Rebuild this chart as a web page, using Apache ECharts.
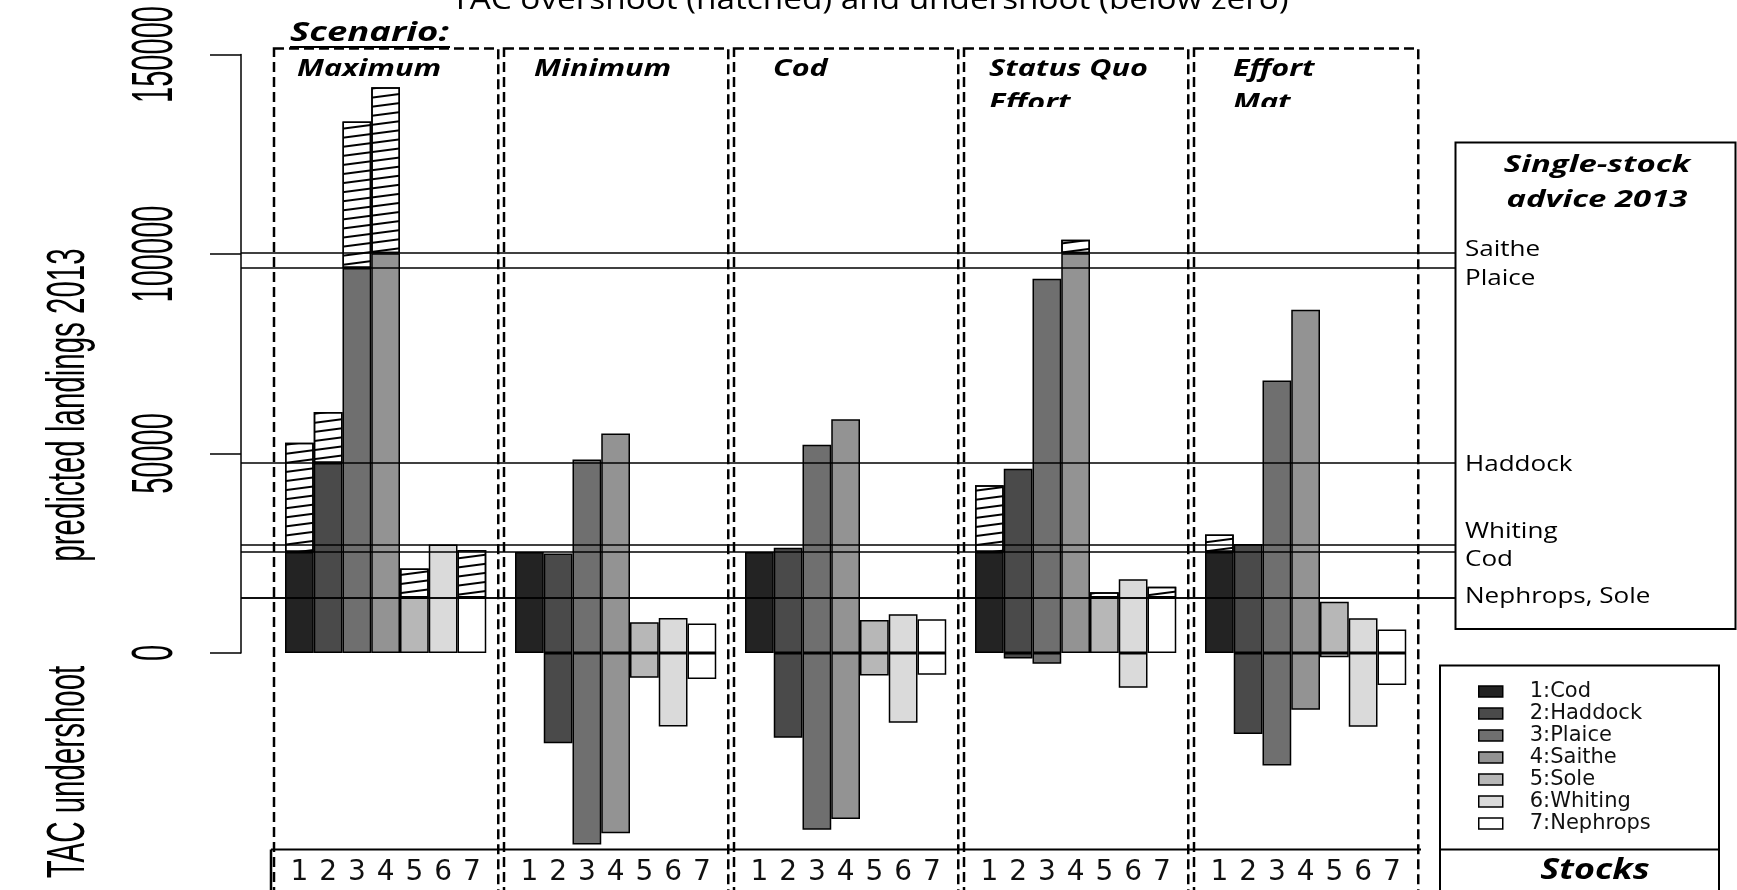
<!DOCTYPE html>
<html>
<head>
<meta charset="utf-8">
<title>TAC overshoot and undershoot</title>
<script src="https://cdn.jsdelivr.net/npm/echarts@6/dist/echarts.min.js"></script>
<style>
  html, body { margin: 0; padding: 0; background: #fff; }
  #chart { width: 1737px; height: 890px; }
</style>
</head>
<body>
<div id="chart"></div>
<script>
// stocks, in bar order inside every scenario panel
var stocks = ['1:Cod', '2:Haddock', '3:Plaice', '4:Saithe', '5:Sole', '6:Whiting', '7:Nephrops'];
var stockTicks = ['1', '2', '3', '4', '5', '6', '7'];
var stockColors = ['#232323', '#4a4a4a', '#6f6f6f', '#939393', '#b7b7b7', '#dadada', '#ffffff'];
var scenarios = ['Maximum', 'Minimum', 'Cod', 'Status Quo\nEffort', 'Effort\nMat'];

// single-stock advice 2013 (tonnes)
var tac = [25300, 47600, 96500, 100200, 13900, 27200, 13900];
var tacLabels = ['Cod', 'Haddock', 'Plaice', 'Saithe', '', 'Whiting', 'Nephrops, Sole'];

// predicted landings 2013 per scenario (tonnes)
var landMaximum   = [52700, 60400, 133200, 141800, 21200, 27200, 25800];
var landMinimum   = [25300, 24950, 48500, 55000, 7700, 8750, 7400];
var landCod       = [25300, 26350, 52200, 58600, 8250, 9700, 8450];
var landSqEffort  = [42050, 46200, 93800, 103550, 15200, 18500, 16600];
var landEffortMat = [29700, 27300, 68300, 86000, 12850, 8700, 5900];
var landings = [landMaximum, landMinimum, landCod, landSqEffort, landEffortMat];

var yTicks = [0, 50000, 100000, 150000];

// label placement only
var tacLabelShift = [8, 2, 11, -3, 0, -12, -1];
var headerX = [297, 534, 773, 989, 1233];

var chart = echarts.init(document.getElementById('chart'));

// 7 bars + 1 empty slot per scenario
var slots = 8;
var categories = [];
scenarios.forEach(function () {
  stockTicks.forEach(function (t) { categories.push(t); });
  categories.push('');
});
function emptyRow() {
  return categories.map(function () { return '-'; });
}

var series = [];
stocks.forEach(function (name, s) {
  var d = emptyRow();
  landings.forEach(function (row, g) {
    d[g * slots + s] = Math.min(row[s], tac[s]);
  });
  series.push({
    name: name,
    type: 'bar',
    stack: 'all',
    barCategoryGap: '0%',
    data: d,
    itemStyle: { color: stockColors[s], borderColor: '#000', borderWidth: 1.5 }
  });
});

var over = emptyRow();
var under = emptyRow();
landings.forEach(function (row, g) {
  row.forEach(function (v, s) {
    var diff = v - tac[s];
    if (diff > 0) over[g * slots + s] = diff;
    if (diff < 0) under[g * slots + s] = { value: diff, itemStyle: { color: stockColors[s] } };
  });
});
series.push({
  name: 'overshoot',
  type: 'bar',
  stack: 'all',
  barCategoryGap: '0%',
  data: over,
  itemStyle: {
    color: '#fff',
    borderColor: '#000',
    borderWidth: 1.5,
    decal: {
      symbol: 'rect',
      symbolSize: 1,
      color: '#000',
      dashArrayX: [1, 0],
      dashArrayY: [1.3, 6.4],
      rotation: -0.13
    }
  }
});
series.push({
  name: 'undershoot',
  type: 'bar',
  stack: 'all',
  barCategoryGap: '0%',
  data: under,
  itemStyle: { borderColor: '#000', borderWidth: 1.5 }
});

// advice lines
series.push({
  name: 'advice',
  type: 'line',
  xAxisIndex: 1,
  yAxisIndex: 1,
  data: [],
  markLine: {
    silent: true,
    symbol: ['none', 'none'],
    lineStyle: { color: '#000', width: 1.5, type: 'solid' },
    label: { show: false },
    data: tac.map(function (v, i) {
      return { yAxis: v, name: stocks[i] };
    })
  }
});

chart.setOption({
  backgroundColor: '#fff',
  animation: false,
  grid: [
    { left: 285, width: 1150, top: 54.5, height: 798 },
    { left: 241, width: 1214, top: 54.5, height: 598.5 }
  ],
  xAxis: [{
    type: 'category',
    gridIndex: 0,
    data: categories,
    axisLine: { show: false, onZero: false },
    axisTick: { show: false },
    axisLabel: {
      interval: 0,
      margin: 6,
      color: '#111',
      fontFamily: 'DejaVu Sans',
      fontSize: 28
    }
  }, {
    type: 'value',
    gridIndex: 1,
    min: 0,
    max: 1,
    show: false
  }],
  yAxis: [{
    type: 'value',
    gridIndex: 0,
    min: -50000,
    max: 150000,
    show: false
  }, {
    type: 'value',
    gridIndex: 1,
    min: 0,
    max: 150000,
    interval: 50000,
    axisLine: { show: true, lineStyle: { color: '#000', width: 1.5 } },
    axisTick: { show: true, length: 31, lineStyle: { color: '#000', width: 1.5 } },
    axisLabel: { show: false },
    splitLine: { show: false }
  }],
  legend: {
    data: stocks,
    orient: 'vertical',
    left: 1478,
    top: 681,
    padding: 0,
    itemGap: 1,
    itemWidth: 24,
    itemHeight: 11,
    icon: 'rect',
    selectedMode: false,
    itemStyle: { borderColor: '#000', borderWidth: 1.5 },
    textStyle: {
      color: '#111',
      fontFamily: 'DejaVu Sans',
      fontSize: 21,
      padding: [0, 0, 0, 22]
    }
  },
  series: series
});

// frames and texts around the plot
function yPx(v) { return chart.convertToPixel({ yAxisIndex: 1 }, v); }
function xPx(i) { return chart.convertToPixel({ xAxisIndex: 0 }, i); }
var slotW = xPx(1) - xPx(0);

function txt(x, y, text, opts) {
  var st = {
    text: text,
    fill: '#000',
    fontFamily: opts.family || 'Open Sans',
    fontSize: opts.size || 26,
    fontWeight: opts.weight || 'normal',
    fontStyle: opts.style || 'normal',
    align: opts.align || 'left',
    textAlign: opts.align || 'left',
    verticalAlign: 'middle',
    textVerticalAlign: 'middle'
  };
  var el = { type: 'text', x: x, y: y, z: 20, style: st };
  if (opts.rotation) el.rotation = opts.rotation;
  if (opts.scaleX) el.scaleX = opts.scaleX;
  if (opts.scaleY) el.scaleY = opts.scaleY;
  return el;
}
var bi = function (size, sx) {
  return { weight: 'bold', style: 'italic', size: size, scaleX: sx };
};

var graphics = [];

scenarios.forEach(function (name, g) {
  var left = xPx(g * slots) - slotW / 2 - 11;
  var right = xPx(g * slots + 6) + slotW / 2 + 12;
  graphics.push({
    type: 'rect',
    z: 5,
    shape: { x: left, y: 48.5, width: right - left, height: 860 },
    style: { fill: 'none', stroke: '#000', lineWidth: 2.5, lineDash: [10, 5] }
  });
  name.split('\n').forEach(function (line, k) {
    graphics.push(txt(headerX[g], 69 + k * 34.5, line, bi(23.5, 1.3)));
  });
});
// second header lines are cut off in the original
graphics.push({ type: 'rect', z: 21, shape: { x: 975, y: 107, width: 200, height: 20 }, style: { fill: '#fff' } });
graphics.push({ type: 'rect', z: 21, shape: { x: 1205, y: 107, width: 200, height: 20 }, style: { fill: '#fff' } });

graphics.push(txt(290, 33, 'Scenario:', bi(27, 1.35)));
graphics.push({ type: 'line', z: 20, shape: { x1: 290, y1: 47, x2: 450, y2: 47 }, style: { stroke: '#000', lineWidth: 2 } });

graphics.push(txt(870, 0, 'TAC overshoot (hatched) and undershoot (below zero)', { size: 30, align: 'center', scaleX: 1.11 }));

// stock number strip
graphics.push({ type: 'line', z: 20, shape: { x1: 271, y1: 849.5, x2: 1421, y2: 849.5 }, style: { stroke: '#000', lineWidth: 2 } });
graphics.push({ type: 'line', z: 20, shape: { x1: 271, y1: 849.5, x2: 271, y2: 890 }, style: { stroke: '#000', lineWidth: 2.5 } });

// advice box and its labels
graphics.push({ type: 'rect', z: 20, shape: { x: 1455.5, y: 142.5, width: 280, height: 486.5 }, style: { fill: 'none', stroke: '#000', lineWidth: 2 } });
graphics.push(txt(1597, 165, 'Single-stock', { weight: 'bold', style: 'italic', size: 23.5, align: 'center', scaleX: 1.4 }));
graphics.push(txt(1597, 200, 'advice 2013', { weight: 'bold', style: 'italic', size: 23.5, align: 'center', scaleX: 1.4 }));
tac.forEach(function (v, i) {
  if (!tacLabels[i]) return;
  graphics.push(txt(1465, yPx(v) + tacLabelShift[i], tacLabels[i], { size: 21, scaleX: 1.24 }));
});

// legend / stocks box
graphics.push({ type: 'rect', z: 20, shape: { x: 1440, y: 665.5, width: 279, height: 240 }, style: { fill: 'none', stroke: '#000', lineWidth: 2 } });
graphics.push({ type: 'line', z: 20, shape: { x1: 1440, y1: 849.5, x2: 1719, y2: 849.5 }, style: { stroke: '#000', lineWidth: 2 } });
graphics.push(txt(1595, 871, 'Stocks', { weight: 'bold', style: 'italic', size: 28, align: 'center', scaleX: 1.28 }));

// y tick labels and titles, R style (rotated, stretched)
yTicks.forEach(function (v) {
  graphics.push(txt(156, yPx(v), String(v), {
    family: 'Liberation Sans', size: 29, align: 'center', rotation: Math.PI / 2, scaleY: 1.95
  }));
});
graphics.push(txt(69, 405, 'predicted landings 2013', {
  family: 'Liberation Sans', size: 29.5, align: 'center', rotation: Math.PI / 2, scaleY: 1.8
}));
graphics.push(txt(69, 772, 'TAC undershoot', {
  family: 'Liberation Sans', size: 29.5, align: 'center', rotation: Math.PI / 2, scaleY: 1.8
}));

chart.setOption({ graphic: graphics });
</script>
</body>
</html>
